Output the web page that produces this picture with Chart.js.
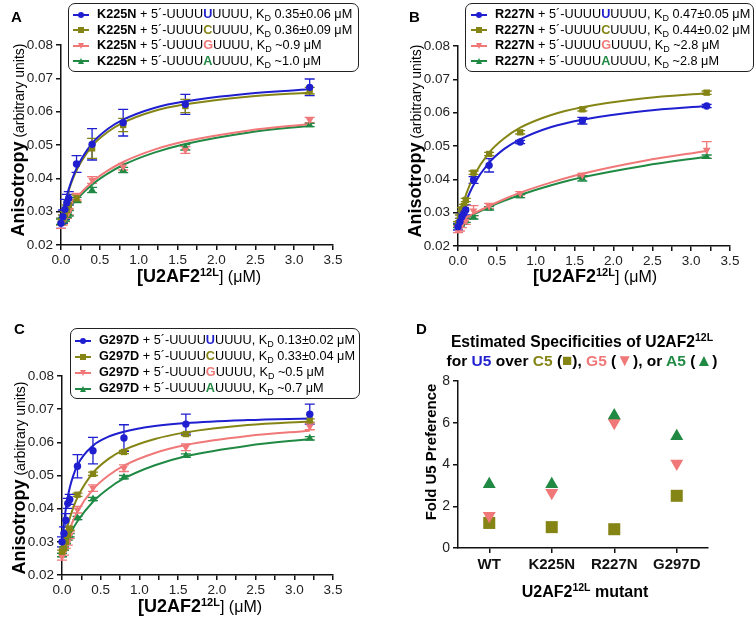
<!DOCTYPE html>
<html>
<head>
<meta charset="utf-8">
<script src="https://cdn.jsdelivr.net/npm/chart.js@4.4.1/dist/chart.umd.min.js"></script>
<style>
  body { margin:0; width:756px; height:617px; background:#fff; position:relative; overflow:hidden;
         font-family:"Liberation Sans", Arial, sans-serif; color:#000; }
  canvas { position:absolute; }
  .txt { position:absolute; white-space:nowrap; z-index:2; }
  .letter { font-weight:bold; font-size:15px; }
  .center { transform:translate(-50%,-50%); }
  .vert { transform:translate(-50%,-50%) rotate(-90deg); }
  .legend { position:absolute; z-index:2; box-sizing:border-box; border:1px solid #222; border-radius:7px;
            background:#fff; font-size:12.7px; white-space:nowrap; }
  .legend .row { display:block; }
  .samp { position:relative; display:inline-block; width:16px; height:2px; margin-right:8px; vertical-align:middle; }
  .samp i { position:absolute; left:50%; top:50%; transform:translate(-50%,-50%); display:block; }
  sub { font-size:9px; vertical-align:-3px; line-height:0; }
  .sup { font-size:11px; position:relative; top:-6px; font-weight:bold; }
  .sym { font-size:17px; }
</style>
</head>
<body>
<canvas id="chartA" width="378" height="300" style="left:0;top:0"></canvas>
<canvas id="chartB" width="378" height="300" style="left:378px;top:0"></canvas>
<canvas id="chartC" width="378" height="317" style="left:0;top:300px"></canvas>
<canvas id="chartD" width="378" height="317" style="left:378px;top:300px"></canvas>

<div class="txt letter" style="left:11px;top:8px">A</div>
<div class="txt letter" style="left:409px;top:8px">B</div>
<div class="txt letter" style="left:14px;top:320px">C</div>
<div class="txt letter" style="left:416px;top:320px">D</div>

<div class="legend" id="legA" style="left:68px;top:3px;width:291px;height:69px;padding:3px 0 0 4px"></div>
<div class="legend" id="legB" style="left:465px;top:3px;width:289px;height:69px;padding:3px 0 0 5px"></div>
<div class="legend" id="legC" style="left:70px;top:328px;width:290px;height:71px;padding:3px 0 0 4px"></div>

<div class="txt vert" style="left:18px;top:140px"><b style="font-size:18px">Anisotropy</b><span style="font-size:14px"> (arbitrary units)</span></div>
<div class="txt vert" style="left:415px;top:141px"><b style="font-size:18px">Anisotropy</b><span style="font-size:14px"> (arbitrary units)</span></div>
<div class="txt vert" style="left:19px;top:478px"><b style="font-size:18px">Anisotropy</b><span style="font-size:14px"> (arbitrary units)</span></div>

<div class="txt center" style="left:199px;top:276px;font-size:16px"><b style="font-size:18px">[U2AF2</b><span class="sup">12L</span>] (μM)</div>
<div class="txt center" style="left:595px;top:276px;font-size:16px"><b style="font-size:18px">[U2AF2</b><span class="sup">12L</span>] (μM)</div>
<div class="txt center" style="left:200px;top:606px;font-size:16px"><b style="font-size:18px">[U2AF2</b><span class="sup">12L</span>] (μM)</div>

<div class="txt center" style="left:582px;top:342px;font-size:15.7px;font-weight:bold">Estimated Specificities of U2AF2<span class="sup" style="font-size:10.5px">12L</span></div>
<div class="txt center" style="left:582px;top:361px;font-size:15.5px;font-weight:bold">for <span style="color:#1f1fd0">U5</span> over <span style="color:#858516">C5</span> (<span class="sym" style="color:#858516">■</span>), <span style="color:#f07878">G5</span> (<span class="sym" style="color:#f07878">▼</span>), or <span style="color:#208a45">A5</span> (<span class="sym" style="color:#208a45">▲</span>)</div>
<div class="txt vert" style="left:430px;top:452px;font-size:15px;font-weight:bold">Fold U5 Preference</div>
<div class="txt center" style="left:585px;top:592px;font-size:16px;font-weight:bold">U2AF2<span class="sup" style="font-size:10.5px">12L</span> mutant</div>

<script>
// concentrations of U2AF2 (uM)
const conc = [0, 0.025, 0.05, 0.075, 0.1, 0.2, 0.4, 0.8, 1.6, 3.2];
const fitConc = [0, 0.025, 0.05, 0.1, 0.2, 0.4, 0.6, 0.8, 1.2, 1.6, 2.4, 3.2];
const nucleotides = ['U', 'C', 'G', 'A'];
const seriesColors = ['#1f1fd0', '#858516', '#f07878', '#208a45'];
const pointStyles = ['circle', 'rect', 'triangle', 'triangle'];
const pointRotations = [0, 0, 180, 0];
const pointSizes = [3.7, 4.5, 4.5, 4.5];

// A: K225N
const aKd = ['0.35±0.06 μM', '0.36±0.09 μM', '~0.9 μM', '~1.0 μM'];
const aU = [0.0265, 0.0285, 0.0307, 0.0327, 0.034, 0.0443, 0.0502, 0.0567, 0.0622, 0.0673];
const aUErr = [0.0015, 0.002, 0.003, 0.0025, 0.002, 0.0025, 0.0047, 0.004, 0.003, 0.0025];
const aC = [0.027, 0.028, 0.029, 0.0305, 0.032, 0.034, 0.049, 0.056, 0.0617, 0.0663];
const aCErr = [0.001, 0.001, 0.001, 0.0015, 0.0015, 0.001, 0.003, 0.002, 0.002, 0.001];
const aG = [0.0265, 0.027, 0.028, 0.029, 0.030, 0.0345, 0.0395, 0.0435, 0.0485, 0.0575];
const aGErr = [0.0015, 0.001, 0.001, 0.001, 0.001, 0.001, 0.001, 0.001, 0.001, 0.0008];
const aA = [0.027, 0.0275, 0.028, 0.029, 0.0295, 0.0335, 0.0365, 0.0425, 0.0493, 0.056];
const aAErr = [0.0008, 0.0008, 0.0008, 0.0008, 0.0008, 0.0008, 0.0008, 0.0008, 0.0008, 0.0005];
const aFitU = [0.027, 0.0299, 0.0325, 0.0368, 0.043, 0.0505, 0.0548, 0.0576, 0.0611, 0.0631, 0.0654, 0.0667];
const aFitC = [0.027, 0.0298, 0.0323, 0.0364, 0.0424, 0.0497, 0.0539, 0.0567, 0.0602, 0.0622, 0.0645, 0.0657];
const aFitG = [0.0275, 0.0285, 0.0294, 0.0312, 0.0342, 0.0389, 0.0423, 0.0449, 0.0486, 0.0511, 0.0543, 0.0563];
const aFitA = [0.0275, 0.0284, 0.0293, 0.0309, 0.0337, 0.0381, 0.0414, 0.044, 0.0477, 0.0503, 0.0537, 0.0558];

// B: R227N
const bKd = ['0.47±0.05 μM', '0.44±0.02 μM', '~2.8 μM', '~2.8 μM'];
const bU = [0.0258, 0.0273, 0.0288, 0.0298, 0.0308, 0.0398, 0.0442, 0.0512, 0.0576, 0.062];
const bUErr = [0.001, 0.001, 0.001, 0.0015, 0.0015, 0.001, 0.002, 0.0005, 0.001, 0.0005];
const bC = [0.0268, 0.0288, 0.031, 0.032, 0.0338, 0.042, 0.0476, 0.0541, 0.061, 0.066];
const bCErr = [0.0005, 0.0005, 0.0005, 0.0005, 0.0005, 0.0005, 0.0005, 0.0005, 0.0005, 0.0005];
const bG = [0.025, 0.0255, 0.0265, 0.028, 0.0275, 0.0306, 0.032, 0.0358, 0.0413, 0.0488];
const bGErr = [0.001, 0.001, 0.001, 0.001, 0.001, 0.0015, 0.0008, 0.0005, 0.0005, 0.0025];
const bA = [0.026, 0.0265, 0.027, 0.0275, 0.0276, 0.0286, 0.0313, 0.035, 0.0403, 0.0468];
const bAErr = [0.0005, 0.0005, 0.0005, 0.0005, 0.0005, 0.0005, 0.0005, 0.0005, 0.0008, 0.0005];
const bFitU = [0.026, 0.0281, 0.030, 0.0332, 0.0383, 0.045, 0.0492, 0.052, 0.0557, 0.0579, 0.0605, 0.062];
const bFitC = [0.027, 0.0294, 0.0315, 0.0352, 0.0408, 0.048, 0.0524, 0.0555, 0.0593, 0.0616, 0.0643, 0.0658];
const bFitG = [0.027, 0.0274, 0.0277, 0.0284, 0.0297, 0.032, 0.0341, 0.036, 0.0391, 0.0417, 0.0456, 0.0485];
const bFitA = [0.027, 0.0273, 0.0276, 0.0283, 0.0295, 0.0317, 0.0336, 0.0353, 0.0382, 0.0406, 0.0441, 0.0468];

// C: G297D
const cKd = ['0.13±0.02 μM', '0.33±0.04 μM', '~0.5 μM', '~0.7 μM'];
const cU = [0.030, 0.0325, 0.0365, 0.0416, 0.0428, 0.0528, 0.0575, 0.0613, 0.0655, 0.0685];
const cUErr = [0.0015, 0.002, 0.002, 0.0015, 0.0015, 0.0035, 0.004, 0.004, 0.003, 0.003];
const cC = [0.027, 0.028, 0.030, 0.032, 0.034, 0.0442, 0.0505, 0.0571, 0.0625, 0.0666];
const cCErr = [0.0005, 0.0005, 0.0005, 0.0005, 0.0005, 0.0005, 0.0005, 0.0005, 0.0005, 0.0005];
const cG = [0.0255, 0.027, 0.029, 0.030, 0.032, 0.0397, 0.0462, 0.0522, 0.0585, 0.0648];
const cGErr = [0.001, 0.001, 0.001, 0.001, 0.001, 0.001, 0.001, 0.001, 0.001, 0.001];
const cA = [0.026, 0.028, 0.030, 0.031, 0.032, 0.0372, 0.0429, 0.0495, 0.056, 0.0612];
const cAErr = [0.0005, 0.0005, 0.0005, 0.0005, 0.0005, 0.0005, 0.0005, 0.0005, 0.0005, 0.0005];
const cFitU = [0.029, 0.0354, 0.040, 0.0463, 0.0531, 0.059, 0.0617, 0.0632, 0.0649, 0.0658, 0.0667, 0.0672];
const cFitC = [0.027, 0.0301, 0.0327, 0.0371, 0.0434, 0.0508, 0.055, 0.0577, 0.061, 0.063, 0.0652, 0.0663];
const cFitG = [0.027, 0.029, 0.0308, 0.034, 0.0391, 0.0458, 0.050, 0.053, 0.0568, 0.0592, 0.0619, 0.0635];
const cFitA = [0.027, 0.0284, 0.0298, 0.0322, 0.0362, 0.0421, 0.0461, 0.0491, 0.0531, 0.0558, 0.059, 0.061];

// D: fold preference for U5
const mutants = ['WT', 'K225N', 'R227N', 'G297D'];
const foldC5 = [1.2, 1.0, 0.9, 2.5];
const foldG5 = [1.55, 2.65, 6.0, 4.05];
const foldA5 = [3.05, 3.05, 6.35, 5.35];

Chart.defaults.font.family = '"Liberation Sans", Arial, sans-serif';

const errorBars = {
  id: 'errorBars',
  beforeDatasetsDraw(chart) {
    const ctx = chart.ctx, xs = chart.scales.x, ys = chart.scales.y;
    chart.data.datasets.forEach(ds => {
      if (!ds.errors) return;
      ctx.save();
      ctx.strokeStyle = ds.borderColor;
      ctx.lineWidth = 1.3;
      ds.data.forEach((p, j) => {
        const e = ds.errors[j];
        if (!e) return;
        const px = xs.getPixelForValue(p.x);
        const top = ys.getPixelForValue(p.y + e);
        const bot = ys.getPixelForValue(p.y - e);
        ctx.beginPath();
        ctx.moveTo(px, top); ctx.lineTo(px, bot);
        ctx.moveTo(px - 5, top); ctx.lineTo(px + 5, top);
        ctx.moveTo(px - 5, bot); ctx.lineTo(px + 5, bot);
        ctx.stroke();
      });
      ctx.restore();
    });
  }
};

function toXY(xs, ys) {
  return xs.map((x, i) => ({ x: x, y: ys[i] }));
}

function axisStyle() {
  return {
    grid: { display: true, drawOnChartArea: false, drawTicks: true, tickLength: 5, color: '#111', lineWidth: 1.5 },
    border: { display: true, color: '#111', width: 1.5 }
  };
}

function curvePanel(id, pad, points, errs, fits) {
  const datasets = [];
  points.forEach((vals, i) => {
    datasets.push({
      type: 'scatter',
      data: toXY(conc, vals),
      errors: errs[i],
      borderColor: seriesColors[i],
      backgroundColor: seriesColors[i],
      pointStyle: pointStyles[i],
      pointRotation: pointRotations[i],
      pointRadius: pointSizes[i],
      pointBorderWidth: 0,
      showLine: false,
      clip: false
    });
  });
  fits.forEach((vals, i) => {
    datasets.push({
      type: 'line',
      data: toXY(fitConc, vals),
      borderColor: seriesColors[i],
      borderWidth: 2,
      pointRadius: 0,
      cubicInterpolationMode: 'monotone',
      fill: false,
      clip: false
    });
  });
  const xAxis = Object.assign(axisStyle(), {
    type: 'linear', min: 0, max: 3.5,
    afterFit(s) { s.height = 25; },
    ticks: {
      stepSize: 0.25, autoSkip: false, maxRotation: 0, padding: 2, color: '#222', font: { size: 13.5 },
      callback: v => (Math.abs(v * 2 - Math.round(v * 2)) < 1e-6 ? v.toFixed(1) : '')
    }
  });
  const yAxis = Object.assign(axisStyle(), {
    type: 'linear', min: 0.02, max: 0.08,
    afterFit(s) { s.width = 61; },
    ticks: { stepSize: 0.01, padding: 3, color: '#222', font: { size: 13.5 }, callback: v => v.toFixed(2) }
  });
  new Chart(document.getElementById(id), {
    type: 'scatter',
    data: { datasets: datasets },
    options: {
      responsive: false, animation: false, devicePixelRatio: 1,
      layout: { padding: pad },
      plugins: { legend: { display: false }, tooltip: { enabled: false } },
      scales: { x: xAxis, y: yAxis }
    },
    plugins: [errorBars]
  });
}

curvePanel('chartA', { left: 0, top: 45, right: 45, bottom: 30 },
  [aU, aC, aG, aA], [aUErr, aCErr, aGErr, aAErr], [aFitU, aFitC, aFitG, aFitA]);
curvePanel('chartB', { left: 19, top: 46, right: 26, bottom: 29 },
  [bU, bC, bG, bA], [bUErr, bCErr, bGErr, bAErr], [bFitU, bFitC, bFitG, bFitA]);
curvePanel('chartC', { left: 1, top: 76, right: 45, bottom: 17 },
  [cU, cC, cG, cA], [cUErr, cCErr, cGErr, cAErr], [cFitU, cFitC, cFitG, cFitA]);

// panel D
const dx = Object.assign(axisStyle(), {
  type: 'category', offset: true,
  afterFit(s) { s.height = 25; },
  ticks: { padding: 3, color: '#111', font: { size: 15, weight: 'bold' } }
});
dx.grid.offset = false;
const dy = Object.assign(axisStyle(), {
  type: 'linear', min: 0, max: 8,
  afterFit(s) { s.width = 80; },
  ticks: { stepSize: 2, padding: 3, color: '#222', font: { size: 14 } }
});
new Chart(document.getElementById('chartD'), {
  type: 'line',
  data: {
    labels: mutants,
    datasets: [
      { data: foldA5, backgroundColor: seriesColors[3], pointStyle: 'triangle', pointRadius: 7.5, pointBorderWidth: 0, showLine: false, clip: false },
      { data: foldG5, backgroundColor: seriesColors[2], pointStyle: 'triangle', pointRotation: 180, pointRadius: 7.5, pointBorderWidth: 0, showLine: false, clip: false },
      { data: foldC5, backgroundColor: seriesColors[1], pointStyle: 'rect', pointRadius: 8.5, pointBorderWidth: 0, showLine: false, clip: false }
    ]
  },
  options: {
    responsive: false, animation: false, devicePixelRatio: 1,
    layout: { padding: { left: 0, top: 81, right: 48, bottom: 44 } },
    plugins: { legend: { display: false }, tooltip: { enabled: false } },
    scales: { x: dx, y: dy }
  }
});

// HTML legends with coloured variable nucleotide
function buildLegend(id, mutant, kds, rowH) {
  const el = document.getElementById(id);
  el.innerHTML = nucleotides.map((n, i) => {
    const c = seriesColors[i];
    let mk;
    if (i === 0) mk = `<i style="width:6px;height:6px;border-radius:50%;background:${c}"></i>`;
    else if (i === 1) mk = `<i style="width:6px;height:6px;background:${c}"></i>`;
    else if (i === 2) mk = `<i style="width:0;height:0;border-left:3.5px solid transparent;border-right:3.5px solid transparent;border-top:6px solid ${c}"></i>`;
    else mk = `<i style="width:0;height:0;border-left:3.5px solid transparent;border-right:3.5px solid transparent;border-bottom:6px solid ${c}"></i>`;
    return `<div class="row" style="height:${rowH}px;line-height:${rowH}px"><span class="samp" style="background:${c}">${mk}</span><b>${mutant}</b> + 5´-UUUU<b style="color:${c}">${n}</b>UUUU, K<sub>D</sub> ${kds[i]}</div>`;
  }).join('');
}
buildLegend('legA', 'K225N', aKd, 15.6);
buildLegend('legB', 'R227N', bKd, 15.6);
buildLegend('legC', 'G297D', cKd, 16);
</script>
</body>
</html>
